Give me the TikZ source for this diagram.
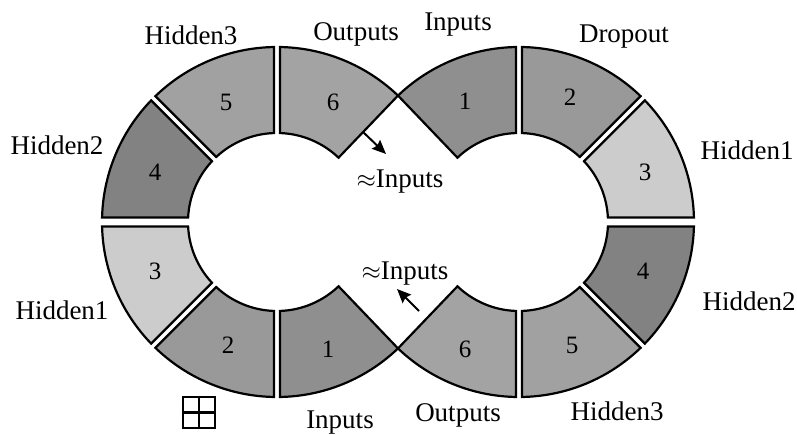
\documentclass[tikz,border=0pt]{standalone}
\usepackage{fontspec}
\setmainfont{Liberation Serif}
\usetikzlibrary{calc,arrows.meta}

% fills of the six layer kinds
\definecolor{kInput}{gray}{0.56}
\definecolor{kDrop}{gray}{0.60}
\definecolor{kHidA}{gray}{0.80}
\definecolor{kHidB}{gray}{0.51}
\definecolor{kHidC}{gray}{0.63}
\definecolor{kOut}{gray}{0.64}

\def\Rout{175}
\def\Rin{89}

% one ring segment: #1 centre, #2/#3 start/end angle,
% #4/#5 half gap at start/end, #6 fill
\newcommand\ringsector[6]{%
  \pgfmathsetmacro\sOa{#2+asin(#4/\Rout)}%
  \pgfmathsetmacro\sOb{#3-asin(#5/\Rout)}%
  \pgfmathsetmacro\sIa{#2+asin(#4/\Rin)}%
  \pgfmathsetmacro\sIb{#3-asin(#5/\Rin)}%
  \draw[seg, fill=#6] ($(#1)+(\sOa:\Rout)$)
    arc[start angle=\sOa, end angle=\sOb, radius=\Rout]
    -- ($(#1)+(\sIb:\Rin)$)
    arc[start angle=\sIb, end angle=\sIa, radius=\Rin] -- cycle;%
}

\tikzset{
  seg/.style={draw=black, line width=2.2pt},
  num/.style={font=\fontsize{25}{30}\selectfont, anchor=base, inner sep=0pt},
  lab/.style={font=\fontsize{27}{32}\selectfont, anchor=base, inner sep=0pt},
  arr/.style={line width=2pt, -{Stealth[length=14pt,width=12pt,inset=2pt]}},
}

\begin{document}
\begin{tikzpicture}[x=1pt,y=1pt]
\useasboundingbox (0,0) rectangle (797,434);

\coordinate (L) at (277,212);
\coordinate (R) at (519,212);
\pgfmathsetmacro\tip{acos(121/175)}

% left ring
\ringsector{L}{\tip}{90}{0}{3}{kOut}
\ringsector{L}{90}{135}{3}{3}{kHidC}
\ringsector{L}{135}{180}{3}{4.5}{kHidB}
\ringsector{L}{180}{225}{4.5}{3}{kHidA}
\ringsector{L}{225}{270}{3}{3}{kDrop}
\ringsector{L}{270}{360-\tip}{3}{0}{kInput}

% right ring
\ringsector{R}{90}{180-\tip}{3}{0}{kInput}
\ringsector{R}{45}{90}{3}{3}{kDrop}
\ringsector{R}{0}{45}{4.5}{3}{kHidA}
\ringsector{R}{-45}{0}{3}{4.5}{kHidB}
\ringsector{R}{-90}{-45}{3}{3}{kHidC}
\ringsector{R}{-180+\tip}{-90}{0}{3}{kOut}

% segment numbers
\node[num] (l6) at (333,323) {6};
\node[num] (l5) at (226,323) {5};
\node[num] (l4) at (155,253) {4};
\node[num] (l3) at (155,154) {3};
\node[num] (l2) at (228,81) {2};
\node[num] (l1) at (328,77) {1};
\node[num] (r1) at (465,324) {1};
\node[num] (r2) at (570,328) {2};
\node[num] (r3) at (645,253) {3};
\node[num] (r4) at (643,154) {4};
\node[num] (r5) at (572,81) {5};
\node[num] (r6) at (465,77) {6};

% layer names
\node[lab] (tHid3) at (191,389) {Hidden3};
\node[lab] (tOut)  at (356,393) {Outputs};
\node[lab] (tIn)   at (458,403) {Inputs};
\node[lab] (tDrop) at (624,391) {Dropout};
\node[lab] (tHid1r) at (747,274) {Hidden1};
\node[lab] (tHid2l) at (57,279) {Hidden2};
\node[lab] (tHid1l) at (62,115) {Hidden1};
\node[lab] (tHid2r) at (749,124) {Hidden2};
\node[lab] (bHid3) at (617,14) {Hidden3};
\node[lab] (bOut)  at (458,13) {Outputs};
\node[lab] (bIn)   at (340,6) {Inputs};
\node[lab] (aTop)  at (400,246) {$\approx$Inputs};
\node[lab] (aBot)  at (405,154) {$\approx$Inputs};

% feedback arrows
\coordinate (aTs) at (363,302);
\coordinate (aTe) at (386,280);
\draw[arr] (aTs) -- (aTe);
\coordinate (aBs) at (419,123);
\coordinate (aBe) at (397,145);
\draw[arr] (aBs) -- (aBe);

% small grid mark
\node[draw, line width=2.2pt, minimum width=32pt, minimum height=31pt,
      inner sep=0pt] (grid) at (199,21.5) {};
\draw[line width=2.2pt] (grid.north) -- (grid.south);
\draw[line width=2.2pt] (grid.west) -- (grid.east);
\end{tikzpicture}
\end{document}
